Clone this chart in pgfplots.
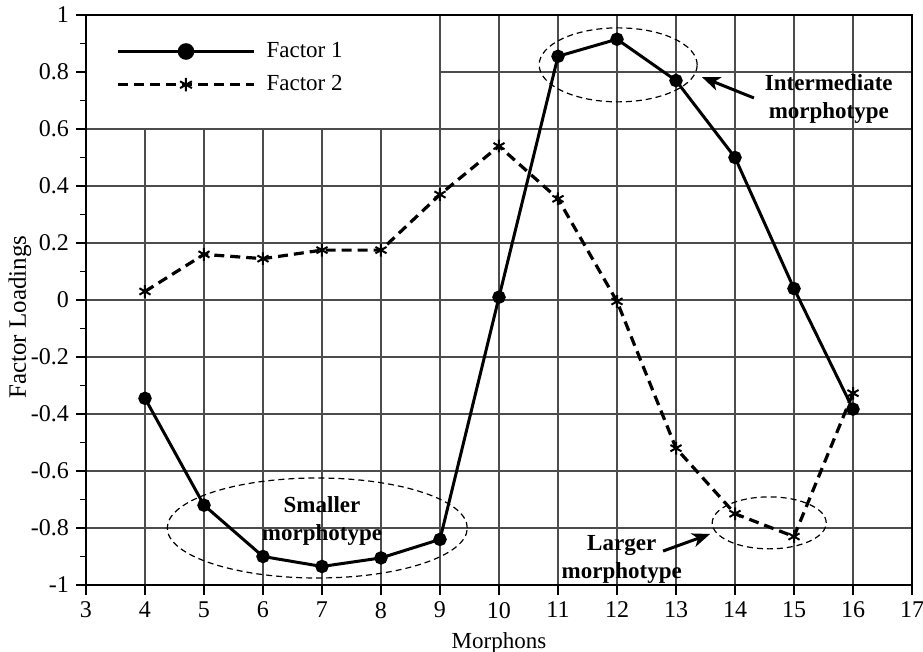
\documentclass[border=0pt]{standalone}
\usepackage{fontspec}
\setmainfont{Liberation Serif}
\usepackage{pgfplots}
\usepackage{pgfplotstable}
\pgfplotsset{compat=1.18}
\usetikzlibrary{arrows.meta}

% Factor loadings for each morphon
\pgfplotstableread{
x   f1      f2
4   -0.345  0.030
5   -0.720  0.160
6   -0.900  0.145
7   -0.935  0.175
8   -0.905  0.175
9   -0.840  0.370
10   0.010  0.540
11   0.855  0.355
12   0.915 -0.005
13   0.770 -0.520
14   0.500 -0.750
15   0.040 -0.830
16  -0.383 -0.327
}\loadings

\begin{document}
\begin{tikzpicture}
\begin{axis}[
  scale only axis, width=413pt, height=285pt,
  xmin=3, xmax=17, ymin=-1, ymax=1,
  xtick={3,...,17},
  ytick={-1,-0.8,-0.6,-0.4,-0.2,0,0.2,0.4,0.6,0.8,1},
  yticklabels={-1,-0.8,-0.6,-0.4,-0.2,0,0.2,0.4,0.6,0.8,1},
  minor ytick={-0.9,-0.7,-0.5,-0.3,-0.1,0.1,0.3,0.5,0.7,0.9},
  tick pos=left, tick align=outside,
  major tick length=5pt, minor tick length=3pt,
  every tick/.style={black, line width=0.8pt},
  grid=major, major grid style={black!70, line width=0.6pt},
  axis line style={line width=0.8pt},
  tick label style={font=\fontsize{12}{13}\selectfont},
  /pgf/number format/assume math mode=true,
  xlabel={Morphons}, ylabel={Factor Loadings},
  xlabel style={font=\fontsize{11.5}{13}\selectfont,
    at={(axis description cs:0.5,0)}, anchor=center, yshift=-29pt},
  ylabel style={font=\fontsize{12.5}{14}\selectfont,
    at={(axis description cs:0,0.47)}, anchor=center, yshift=33pt},
  legend cell align=left,
  legend image code/.code={%
    \draw[mark repeat=2, mark phase=2, #1, mark size=3.4pt]
      plot coordinates {(0pt,0pt) (34pt,0pt) (68pt,0pt)};},
  legend style={draw=none, fill=none, inner sep=0pt,
    at={(axis description cs:0,1)}, anchor=north west,
    xshift=15pt, yshift=-12pt, row sep=4.5pt,
    font=\fontsize{11.5}{13}\selectfont,
    nodes={inner sep=1.5pt},
    /tikz/every odd column/.append style={column sep=4pt}},
]
% blank panel behind the legend
\fill[white] (axis cs:3.015,0.6025) rectangle (axis cs:8.99,0.9975);

\addplot[black, line width=1.5pt, mark=*, mark size=2.6pt]
  table[x=x, y=f1] {\loadings};
\addlegendentry{Factor 1}
\addplot[black, line width=1.6pt, dash pattern=on 5pt off 3pt,
  mark=asterisk, mark size=3.2pt, mark options={solid, line width=1pt}]
  table[x=x, y=f2] {\loadings};
\addlegendentry{Factor 2}

% groupings
\draw[line width=0.6pt, dash pattern=on 3pt off 2pt]
  (axis cs:12.02,0.825) ellipse [x radius=39.5pt, y radius=18.5pt];
\draw[line width=0.6pt, dash pattern=on 3pt off 2pt]
  (axis cs:6.92,-0.80) ellipse [x radius=75pt, y radius=25pt];
\draw[line width=0.6pt, dash pattern=on 3pt off 2pt]
  (axis cs:14.58,-0.782) ellipse [x radius=28.5pt, y radius=13pt];

\node[font=\bfseries\fontsize{11.5}{14}\selectfont, align=center]
  at (axis cs:15.59,0.705) {Intermediate\\morphotype};
\node[font=\bfseries\fontsize{11.5}{14}\selectfont, align=center]
  at (axis cs:7.0,-0.775) {Smaller\\morphotype};
\node[font=\bfseries\fontsize{11.5}{14}\selectfont, align=center]
  at (axis cs:12.08,-0.91) {Larger\\morphotype};

\draw[line width=1.5pt, -{Stealth[length=9pt, width=7pt, inset=2.5pt]}]
  (axis cs:14.32,0.709) -- (axis cs:13.44,0.782);
\draw[line width=1.5pt, -{Stealth[length=9pt, width=7pt, inset=2.5pt]}]
  (axis cs:12.78,-0.881) -- (axis cs:13.58,-0.821);
\end{axis}
\pgfresetboundingbox
\useasboundingbox (-43pt,-33.5pt) rectangle (418.5pt,292.5pt);
\end{tikzpicture}
\end{document}
